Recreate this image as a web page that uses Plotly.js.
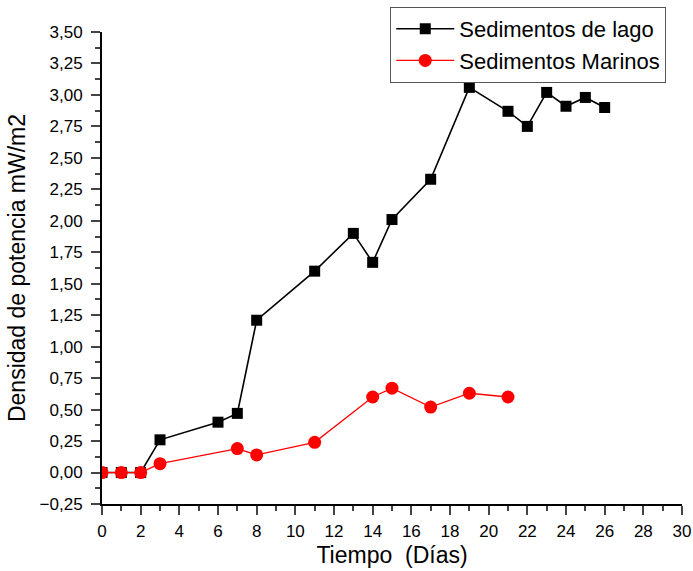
<!DOCTYPE html>
<html>
<head>
<meta charset="utf-8">
<script src="https://cdn.plot.ly/plotly-3.0.1.min.js"></script>
<style>html,body{margin:0;padding:0;background:#fff}#chart{width:693px;height:571px}</style>
</head>
<body>
<div id="chart"></div>
<script>
const lagoX = [0, 1, 2, 3, 6, 7, 8, 11, 13, 14, 15, 17, 19, 21, 22, 23, 24, 25, 26];
const lagoY = [0, 0, 0, 0.26, 0.40, 0.47, 1.21, 1.60, 1.90, 1.67, 2.01, 2.33, 3.06, 2.87, 2.75, 3.02, 2.91, 2.98, 2.90];
const marX = [0, 1, 2, 3, 7, 8, 11, 14, 15, 17, 19, 21];
const marY = [0, 0, 0, 0.07, 0.19, 0.14, 0.24, 0.60, 0.67, 0.52, 0.63, 0.60];
const names = ["Sedimentos de lago", "Sedimentos Marinos"];
const xTitle = "Tiempo  (Días)";
const yTitle = "Densidad de potencia mW/m2";

const font = "Liberation Sans, Arial, sans-serif";
const data = [
  {x: lagoX, y: lagoY, name: names[0], type: "scatter", mode: "lines+markers",
   line: {color: "#000000", width: 1.6}, marker: {symbol: "square", size: 11, color: "#000000"}},
  {x: marX, y: marY, name: names[1], type: "scatter", mode: "lines+markers",
   line: {color: "#ff0000", width: 1.3}, marker: {symbol: "circle", size: 13, color: "#ff0000"}}
];
const layout = {
  width: 693, height: 571,
  margin: {l: 102, r: 11, t: 32, b: 67, autoexpand: false},
  paper_bgcolor: "#fff", plot_bgcolor: "#fff",
  separators: ",.",
  font: {family: font, color: "#000"},
  showlegend: true,
  legend: {x: 0.497, y: 1.053, xanchor: "left", yanchor: "top",
    bordercolor: "#555", borderwidth: 1, bgcolor: "#fff", itemwidth: 58,
    font: {size: 22, family: font}, tracegroupgap: 0},
  xaxis: {range: [0, 30], tick0: 0, dtick: 2, ticks: "outside", ticklen: 9, tickwidth: 2,
    showgrid: false, zeroline: false, showline: true, linecolor: "#000", linewidth: 2, ticklabelstandoff: 2,
    tickfont: {size: 17}, minor: {dtick: 1, ticks: "outside", ticklen: 5, tickwidth: 2, showgrid: false},
    title: {text: xTitle, font: {size: 23}, standoff: 6}},
  yaxis: {range: [-0.25, 3.5], tick0: 0, dtick: 0.25, tickformat: ".2f", ticks: "outside", ticklen: 9, tickwidth: 2,
    showgrid: false, zeroline: false, showline: true, linecolor: "#000", linewidth: 2, ticklabelstandoff: 5,
    tickfont: {size: 17}, minor: {dtick: 0.125, ticks: "outside", ticklen: 5, tickwidth: 2, showgrid: false},
    title: {text: yTitle, font: {size: 23}, standoff: 8}}
};
Plotly.newPlot("chart", data, layout, {displayModeBar: false});
</script>
</body>
</html>
